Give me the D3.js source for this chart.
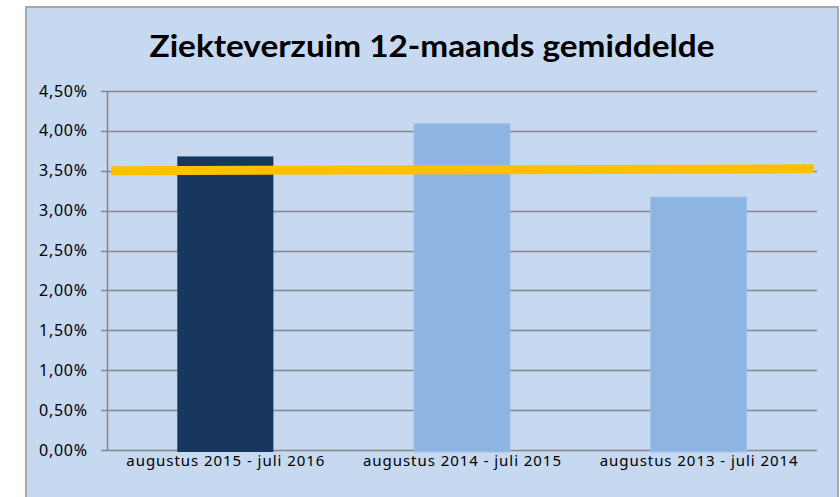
<!DOCTYPE html>
<html>
<head>
<meta charset="utf-8">
<script src="https://cdn.jsdelivr.net/npm/d3@7"></script>
<style>
  body { margin: 0; background: #fff; }
  text { font-family: "Noto Sans", "DejaVu Sans", sans-serif; fill: #000; }
  .y-label { font-size: 16px; }
  .x-label { font-size: 15px; }
  .title { font-family: Lato, "Noto Sans", sans-serif; font-size: 31px; font-weight: bold; }
</style>
</head>
<body>
<div id="chart"></div>
<script>
'use strict';

// Data.
var categories = ['augustus 2015 - juli 2016', 'augustus 2014 - juli 2015', 'augustus 2013 - juli 2014'];
var verzuim = [3.68, 4.09, 3.17];
var barColors = ['#17375e', '#8db4e2', '#8db4e2'];
var normLine = [3.50, 3.525];
var yTicks = [0, 0.5, 1, 1.5, 2, 2.5, 3, 3.5, 4, 4.5];

var width = 840;
var height = 497;

var svg = d3.select('#chart').append('svg')
  .attr('width', width)
  .attr('height', height);

// Chart area background and border.
svg.append('rect')
  .attr('x', 26)
  .attr('y', 7)
  .attr('width', 812)
  .attr('height', 500)
  .attr('fill', '#c6d9f1')
  .attr('stroke', '#a6a6a6')
  .attr('stroke-width', 2);

svg.append('text')
  .attr('class', 'title')
  .attr('x', 432)
  .attr('y', 57)
  .attr('text-anchor', 'middle')
  .attr('textLength', 565)
  .attr('lengthAdjust', 'spacingAndGlyphs')
  .text('Ziekteverzuim 12-maands gemiddelde');

var margin = { top: 91, right: 23, bottom: 47, left: 107 };
var plotW = width - margin.left - margin.right;
var plotH = height - margin.top - margin.bottom;

var g = svg.append('g')
  .attr('transform', 'translate(' + margin.left + ',' + margin.top + ')');

var x = d3.scaleBand()
  .domain(categories)
  .range([0, plotW])
  .paddingInner(0.594)
  .paddingOuter(0.297);

var y = d3.scaleLinear()
  .domain([0, 4.5])
  .range([plotH, 0]);

// Gridlines.
g.selectAll('.grid')
  .data(yTicks)
  .enter().append('line')
  .attr('x1', -6)
  .attr('x2', plotW)
  .attr('y1', function(d) { return Math.round(y(d)) + 0.5; })
  .attr('y2', function(d) { return Math.round(y(d)) + 0.5; })
  .attr('stroke', '#878787')
  .attr('stroke-width', 1.5);

g.append('line')
  .attr('x1', 0.5)
  .attr('x2', 0.5)
  .attr('y1', 0)
  .attr('y2', plotH)
  .attr('stroke', '#878787')
  .attr('stroke-width', 1.5);

// Y axis labels.
var fmt = function(d) { return d3.format('.2f')(d).replace('.', ',') + '%'; };
g.selectAll('.ylab')
  .data(yTicks)
  .enter().append('text')
  .attr('class', 'y-label')
  .attr('x', -20)
  .attr('y', function(d) { return y(d); })
  .attr('dy', '0.35em')
  .attr('text-anchor', 'end')
  .attr('textLength', 48)
  .attr('lengthAdjust', 'spacing')
  .text(fmt);

// Bars.
g.selectAll('.bar')
  .data(verzuim)
  .enter().append('rect')
  .attr('x', function(d, i) { return x(categories[i]); })
  .attr('y', function(d) { return y(d); })
  .attr('width', x.bandwidth())
  .attr('height', function(d) { return plotH - y(d) + 2; })
  .attr('fill', function(d, i) { return barColors[i]; })
  .attr('stroke', function(d, i) { return i === 0 ? 'none' : '#a3c2e8'; })
  .attr('stroke-width', 1);

// X axis labels.
g.selectAll('.xlab')
  .data(categories)
  .enter().append('text')
  .attr('class', 'x-label')
  .attr('x', function(d) { return x(d) + x.bandwidth() / 2; })
  .attr('y', plotH + 16)
  .attr('text-anchor', 'middle')
  .attr('textLength', 198)
  .attr('lengthAdjust', 'spacing')
  .text(function(d) { return d; });

// Norm line (3,5%).
var xLine = d3.scaleLinear()
  .domain([0, normLine.length - 1])
  .range([4, plotW - 3]);

g.append('path')
  .datum(normLine)
  .attr('d', d3.line()
    .x(function(d, i) { return xLine(i); })
    .y(function(d) { return y(d); }))
  .attr('fill', 'none')
  .attr('stroke', '#ffc000')
  .attr('stroke-width', 9);
</script>
</body>
</html>
